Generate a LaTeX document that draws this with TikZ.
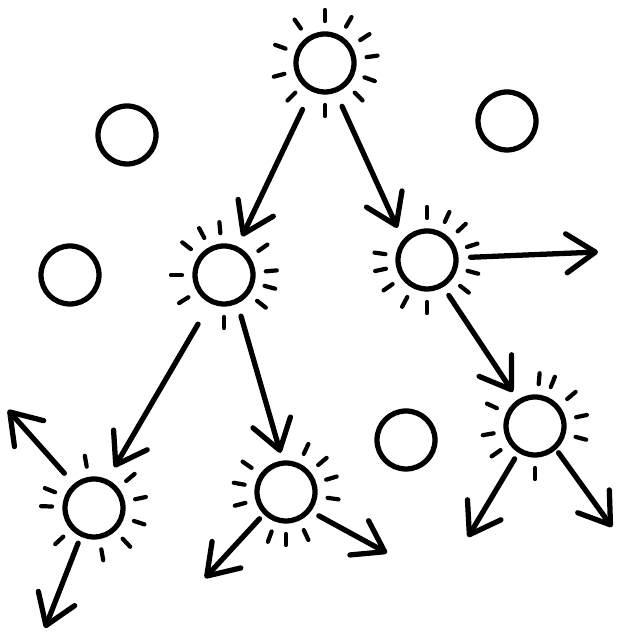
\documentclass[tikz,border=0pt]{standalone}
\usepackage{tikz}
\usetikzlibrary{positioning, arrows.meta}

\tikzset{
  spot/.style={draw, circle, line width=3pt, minimum size=1.16cm, inner sep=0pt},
  arr/.style={line width=3pt, line cap=round,
              -{Straight Barb[length=5.8mm, width=7.8mm, round]}},
  ray/.style={line width=2.4pt, line cap=round}
}
% short strokes round a lit spot
\newcommand{\glow}[2]{%
  \foreach \a in {#2}
    \draw[ray] (#1.center) ++(\a:0.84) -- ++(\a:0.22);}

\begin{document}
\begin{tikzpicture}
    \path[use as bounding box, fill=white] (0,0) rectangle (12.42,12.68);

    % lit spots
    \node[spot] (top)   at (6.50,11.42) {};
    \node[spot] (midl)  at (4.48,7.18) {};
    \node[spot] (midr)  at (8.54,7.48) {};
    \node[spot] (lowl)  at (1.88,2.52) {};
    \node[spot] (lowm)  at (5.72,2.84) {};
    \node[spot] (lowr)  at (10.70,4.16) {};

    % dark spots
    \node[spot] (idle1) at (2.54,9.98) {};
    \node[spot] (idle2) at (1.40,7.18) {};
    \node[spot] (idle3) at (10.14,10.26) {};
    \node[spot] (idle4) at (8.12,3.88) {};

    \glow{top}{90,60,33,8,-20,-45,-90,-135,-165,160,125}
    \glow{midl}{95,118,142,180,-148,-90,-38,-15,5,35}
    \glow{midr}{90,65,43,18,-15,-38,-90,-118,-145,-168,172}
    \glow{lowl}{100,40,12,-18,-47,-80,-137,178,158}
    \glow{lowm}{65,40,17,-8,-65,-90,-110,-165,170,145}
    \glow{lowr}{85,68,40,12,-15,-90,-145,-170,155}

    % loose ends
    \coordinate (outr)  at (11.96,7.64);
    \coordinate (outul) at (0.16,4.48);
    \coordinate (outd)  at (0.90,0.12);
    \coordinate (outml) at (4.10,1.12);
    \coordinate (outmr) at (7.74,1.62);
    \coordinate (outrl) at (9.36,1.94);
    \coordinate (outrr) at (12.24,2.14);

    \draw[arr, shorten <=0.4cm, shorten >=0.22cm] (top.-116) -- (midl.65);
    \draw[arr, shorten <=0.3cm, shorten >=0.26cm] (top.-70) -- (midr.140);
    \draw[arr, shorten <=0.24cm] (midr.4) -- (outr);
    \draw[arr, shorten <=0.2cm, shorten >=0.18cm] (midr.-59) -- (lowr.123);
    \draw[arr, shorten <=0.48cm, shorten >=0.28cm] (midl.-116) -- (lowl.65);
    \draw[arr, shorten <=0.26cm, shorten >=0.16cm] (midl.-65) -- (lowm.96);
    \draw[arr, shorten <=0.28cm] (lowl.130) -- (outul);
    \draw[arr, shorten <=0.14cm] (lowl.-115) -- (outd);
    \draw[arr, shorten <=0.12cm] (lowm.-135) -- (outml);
    \draw[arr, shorten <=0.18cm] (lowm.-38) -- (outmr);
    \draw[arr, shorten <=0.14cm] (lowr.-122) -- (outrl);
    \draw[arr, shorten <=0.08cm] (lowr.-48) -- (outrr);
  \end{tikzpicture}
\end{document}
